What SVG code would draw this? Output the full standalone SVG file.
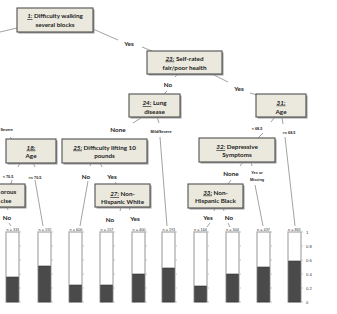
<svg xmlns="http://www.w3.org/2000/svg" width="337" height="314" viewBox="0 0 337 314">
  <style>
    .box { fill: #ebe9de; stroke: #505050; stroke-width: 1.1; }
    .shadow { fill: #9a9a9a; }
    .nt { font-family: Lato, "Liberation Sans", sans-serif; font-weight: bold; font-size: 6.3px; fill: #1a1a1a; text-anchor: middle; }
    .num { font-style: italic; text-decoration: underline; }
    .el { font-family: Lato, "Liberation Sans", sans-serif; font-weight: bold; font-size: 6.3px; fill: #1a1a1a; text-anchor: middle; }
    .sl { font-family: "Liberation Sans", sans-serif; font-weight: bold; font-size: 3.8px; fill: #1a1a1a; text-anchor: middle; }
    .nl { font-family: "Liberation Sans", sans-serif; font-size: 3.8px; fill: #333; text-anchor: middle; }
    .ax { font-family: "Liberation Sans", sans-serif; font-size: 4.2px; fill: #333; }
    .edge { stroke: #8a8a8a; stroke-width: 0.8; fill: none; }
    .bar { fill: #ffffff; stroke: #b4b4b4; stroke-width: 1.4; }
    .fill { fill: #4a4a4a; stroke: #333; stroke-width: 0.6; }
    .tick { stroke: #9a9a9a; stroke-width: 0.6; }
  </style>

  <rect width="337" height="314" fill="#ffffff"/>

  <!-- connectors -->
  <g id="connectors">
    <path class="edge" d="M0,32 L17,28"/>
    <path class="edge" d="M93,29 L118,40 M142,47 L152,51"/>
    <path class="edge" d="M178,74 L175,77 M167,91 L164,94"/>
    <path class="edge" d="M210,73 L228,82 M250,93 L257,95"/>
    <path class="edge" d="M141,118 L133,123"/>
    <path class="edge" d="M157,117 L159,123 M160,137 L167,226"/>
    <path class="edge" d="M10,137 L12,139"/>
    <path class="edge" d="M20,163 L18,167 M33,163 L35,167"/>
    <path class="edge" d="M12,180 L11,184 M35,180 L43,226"/>
    <path class="edge" d="M7,207 L8,210 M9,223 L11,226"/>
    <path class="edge" d="M91,163 L90,166 M88,181 L80,226"/>
    <path class="edge" d="M100,163 L102,167 M115,182 L117,185"/>
    <path class="edge" d="M121,207 L120,211 M129,207 L130,210"/>
    <path class="edge" d="M274,118 L271,122 M263,133 L258,138"/>
    <path class="edge" d="M282,118 L283,124 M285,137 L295,226"/>
    <path class="edge" d="M243,162 L240,166 M231,180 L228,184"/>
    <path class="edge" d="M251,162 L252,166 M255,185 L263,226"/>
    <path class="edge" d="M215,208 L214,211 M223,208 L224,211"/>
    <path class="edge" d="M210,223 L207,227 M228,223 L230,227"/>
  </g>

  <!-- edge labels -->
  <g id="edge-labels">
    <text class="el" x="129" y="45.5">Yes</text>
    <text class="el" x="168" y="86.5">No</text>
    <text class="el" x="239" y="90.5">Yes</text>
    <text class="el" x="118" y="131.5">None</text>
    <text class="sl" x="161" y="132.5">Mild/Severe</text>
    <text class="sl" x="0.5" y="130.5" style="text-anchor:start">Severe</text>
    <text class="sl" x="8" y="177.5">&lt; 70.5</text>
    <text class="sl" x="35" y="178.5">&gt;= 70.5</text>
    <text class="el" x="86" y="178.5">No</text>
    <text class="el" x="112" y="178.5">Yes</text>
    <text class="sl" x="257" y="129.5">&lt; 68.5</text>
    <text class="sl" x="289" y="133.5">&gt;= 68.5</text>
    <text class="el" x="231" y="175.5">None</text>
    <text class="sl" x="257" y="173.5">Yes or</text>
    <text class="sl" x="257" y="180.5">Missing</text>
    <text class="el" x="7" y="219.5">No</text>
    <text class="el" x="110" y="221.5">No</text>
    <text class="el" x="135" y="220.5">Yes</text>
    <text class="el" x="208" y="219.5">Yes</text>
    <text class="el" x="229" y="219.5">No</text>
  </g>

  <!-- tree nodes -->
  <g id="node-1">
    <rect class="shadow" x="18.5" y="9.5" width="76" height="24"/>
    <rect class="box" x="17" y="8" width="76" height="24"/>
    <text class="nt" x="55" y="18"><tspan class="num">1:</tspan> Difficulty walking</text>
    <text class="nt" x="55" y="27">several blocks</text>
  </g>
  <g id="node-23">
    <rect class="shadow" x="148.5" y="52.5" width="75" height="23"/>
    <rect class="box" x="147" y="51" width="75" height="23"/>
    <text class="nt" x="184.5" y="60.5"><tspan class="num">23:</tspan> Self-rated</text>
    <text class="nt" x="184.5" y="69.5">fair/poor health</text>
  </g>
  <g id="node-24">
    <rect class="shadow" x="130.5" y="95.5" width="51" height="23"/>
    <rect class="box" x="129" y="94" width="51" height="23"/>
    <text class="nt" x="154.5" y="105"><tspan class="num">24:</tspan> Lung</text>
    <text class="nt" x="154.5" y="113.5">disease</text>
  </g>
  <g id="node-31">
    <rect class="shadow" x="257.5" y="95.5" width="50" height="23"/>
    <rect class="box" x="256" y="94" width="50" height="23"/>
    <text class="nt" x="281" y="104.5"><tspan class="num">31:</tspan></text>
    <text class="nt" x="281" y="113.5">Age</text>
  </g>
  <g id="node-18">
    <rect class="shadow" x="7.5" y="140.5" width="50" height="24"/>
    <rect class="box" x="6" y="139" width="50" height="24"/>
    <text class="nt" x="31" y="149.5"><tspan class="num">18:</tspan></text>
    <text class="nt" x="31" y="158">Age</text>
  </g>
  <g id="node-25">
    <rect class="shadow" x="63.5" y="140.5" width="85" height="24"/>
    <rect class="box" x="62" y="139" width="85" height="24"/>
    <text class="nt" x="104.5" y="149.5"><tspan class="num">25:</tspan> Difficulty lifting 10</text>
    <text class="nt" x="104.5" y="158">pounds</text>
  </g>
  <g id="node-32">
    <rect class="shadow" x="200.5" y="139.5" width="76" height="24"/>
    <rect class="box" x="199" y="138" width="76" height="24"/>
    <text class="nt" x="237" y="149"><tspan class="num">32:</tspan> Depressive</text>
    <text class="nt" x="237" y="157">Symptoms</text>
  </g>
  <g id="node-vigorous">
    <rect class="shadow" x="-33.5" y="185.5" width="60" height="23"/>
    <rect class="box" x="-35" y="184" width="60" height="23"/>
    <text class="nt" x="0.5" y="194" style="text-anchor:start">orous</text>
    <text class="nt" x="0.5" y="202.5" style="text-anchor:start">cise</text>
  </g>
  <g id="node-27">
    <rect class="shadow" x="96.5" y="185.5" width="55" height="23"/>
    <rect class="box" x="95" y="184" width="55" height="23"/>
    <text class="nt" x="122.5" y="196"><tspan class="num">27:</tspan> Non-</text>
    <text class="nt" x="122.5" y="204">Hispanic White</text>
  </g>
  <g id="node-33">
    <rect class="shadow" x="189.5" y="185.5" width="55" height="24"/>
    <rect class="box" x="188" y="184" width="55" height="24"/>
    <text class="nt" x="215.5" y="194.5"><tspan class="num">33:</tspan> Non-</text>
    <text class="nt" x="215.5" y="203">Hispanic Black</text>
  </g>

  <!-- terminal bars: scale 0 at y=302, 1 at y=232 -->
  <defs>
    <g id="ticks">
      <path class="tick" d="M0,232 h1.5 M0,246 h1.5 M0,260 h1.5 M0,274 h1.5 M0,288 h1.5 M0,302 h1.5"/>
    </g>
  </defs>
  <g id="leaf-1">
    <rect class="bar" x="6" y="232" width="13" height="70"/>
    <rect class="fill" x="6.7" y="277" width="11.6" height="25"/>
    <use href="#ticks" x="19.5"/>
    <text class="nl" x="13" y="230.5">n = 331</text>
  </g>
  <g id="leaf-2">
    <rect class="bar" x="38" y="232" width="13" height="70"/>
    <rect class="fill" x="38.7" y="266" width="11.6" height="36"/>
    <use href="#ticks" x="51.5"/>
    <text class="nl" x="45" y="230.5">n = 192</text>
  </g>
  <g id="leaf-3">
    <rect class="bar" x="69" y="232" width="13" height="70"/>
    <rect class="fill" x="69.7" y="285" width="11.6" height="17"/>
    <use href="#ticks" x="82.5"/>
    <text class="nl" x="76" y="230.5">n = 600</text>
  </g>
  <g id="leaf-4">
    <rect class="bar" x="100" y="232" width="13" height="70"/>
    <rect class="fill" x="100.7" y="285" width="11.6" height="17"/>
    <use href="#ticks" x="113.5"/>
    <text class="nl" x="107" y="230.5">n = 157</text>
  </g>
  <g id="leaf-5">
    <rect class="bar" x="132" y="232" width="13" height="70"/>
    <rect class="fill" x="132.7" y="274" width="11.6" height="28"/>
    <use href="#ticks" x="145.5"/>
    <text class="nl" x="139" y="230.5">n = 400</text>
  </g>
  <g id="leaf-6">
    <rect class="bar" x="162" y="232" width="13" height="70"/>
    <rect class="fill" x="162.7" y="268" width="11.6" height="34"/>
    <use href="#ticks" x="175.5"/>
    <text class="nl" x="169" y="230.5">n = 191</text>
  </g>
  <g id="leaf-7">
    <rect class="bar" x="194" y="232" width="13" height="70"/>
    <rect class="fill" x="194.7" y="286" width="11.6" height="16"/>
    <use href="#ticks" x="207.5"/>
    <text class="nl" x="200.5" y="230.5">n = 164</text>
  </g>
  <g id="leaf-8">
    <rect class="bar" x="226" y="232" width="13" height="70"/>
    <rect class="fill" x="226.7" y="274" width="11.6" height="28"/>
    <use href="#ticks" x="239.5"/>
    <text class="nl" x="232.5" y="230.5">n = 304</text>
  </g>
  <g id="leaf-9">
    <rect class="bar" x="257" y="232" width="13" height="70"/>
    <rect class="fill" x="257.7" y="267" width="11.6" height="35"/>
    <use href="#ticks" x="270.5"/>
    <text class="nl" x="263.5" y="230.5">n = 437</text>
  </g>
  <g id="leaf-10">
    <rect class="bar" x="288" y="232" width="13" height="70"/>
    <rect class="fill" x="288.7" y="261" width="11.6" height="41"/>
    <use href="#ticks" x="301.5"/>
    <text class="nl" x="294.5" y="230.5">n = 861</text>
  </g>

  <!-- shared probability axis -->
  <g id="axis">
    <text class="ax" x="306" y="233.5">1</text>
    <text class="ax" x="306" y="247.5">0.8</text>
    <text class="ax" x="306" y="261.5">0.6</text>
    <text class="ax" x="306" y="275.5">0.4</text>
    <text class="ax" x="306" y="289.5">0.2</text>
    <text class="ax" x="306" y="303.5">0</text>
  </g>
</svg>
